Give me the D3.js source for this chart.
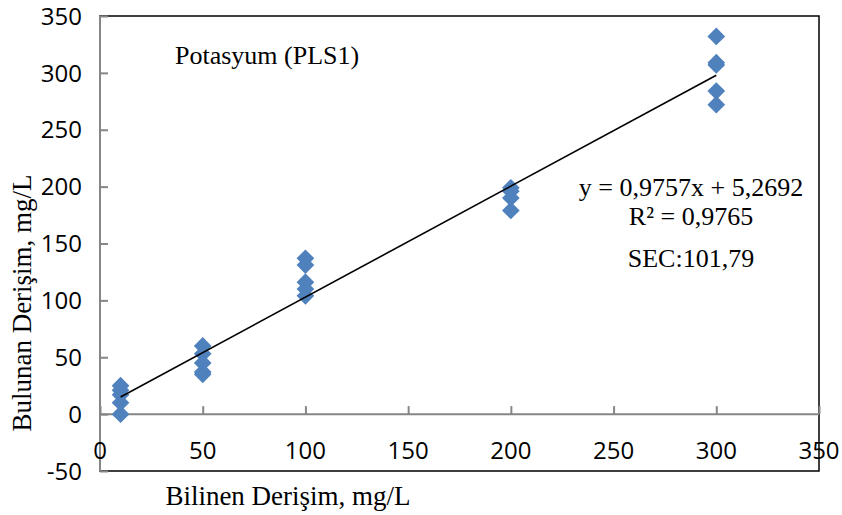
<!DOCTYPE html>
<html><head><meta charset="utf-8">
<script src="https://cdn.jsdelivr.net/npm/d3@7"></script>
<style>body{margin:0;background:#fff}svg{display:block}</style>
</head><body>
<svg id="c" width="842" height="515"></svg>
<script>
const knownX   = [10,10,10,10,10, 50,50,50,50,50, 100,100,100,100,100, 200,200,200,200, 300,300,300,300,300];
const foundY   = [25,21,17,10,0, 60,53,45,37,35, 137,131,116,110,104, 199,196,190,179, 332,309,307,284,272];
const xTicks   = [0,50,100,150,200,250,300,350];
const yTicks   = [-50,0,50,100,150,200,250,300,350];
const slope = 0.9757, intercept = 5.2692;
const trendX = [10, 300];
const chartTitle = "Potasyum (PLS1)";
const eqLines = ["y = 0,9757x + 5,2692", "R² = 0,9765"];
const secText = "SEC:101,79";
const xTitle = "Bilinen Derişim, mg/L";
const yTitle = "Bulunan Derişim, mg/L";

const svg = d3.select("#c");
const L = 100, R = 819, T = 16, B = 471;
const x = d3.scaleLinear().domain([0,350]).range([L,R]);
const y = d3.scaleLinear().domain([-50,350]).range([B,T]);
const axisColor = "#868686";
const tickFont = "'Open Sans', sans-serif";
const serif = "'Liberation Serif', 'Times New Roman', serif";

// plot border
svg.append("rect").attr("x",L).attr("y",T).attr("width",R-L).attr("height",B-T)
  .attr("fill","none").attr("stroke","#000").attr("stroke-width",1.5);

// y axis (ticks inside)
const yAxis = d3.axisRight(y).tickValues(yTicks).tickSize(8).tickFormat("");
const gy = svg.append("g").attr("transform",`translate(${L},0)`).call(yAxis);
gy.selectAll("path,line").attr("stroke",axisColor).attr("stroke-width",2);
gy.select(".domain").attr("d",`M0,${T}V${B}`);
svg.append("g").selectAll("text").data(yTicks).join("text")
  .attr("x",82).attr("y",d=>y(d)).attr("dy","0.36em").attr("text-anchor","end")
  .attr("font-family",tickFont).attr("font-size",24).attr("fill","#000").text(d=>d);

// x axis at y=0 (ticks upward)
const xAxis = d3.axisTop(x).tickValues(xTicks).tickSize(8).tickFormat("");
const gx = svg.append("g").attr("transform",`translate(0,${y(0)})`).call(xAxis);
gx.selectAll("path,line").attr("stroke",axisColor).attr("stroke-width",2);
gx.select(".domain").attr("d",`M${L},0H${R}`);
svg.append("g").selectAll("text").data(xTicks).join("text")
  .attr("x",d=>x(d)).attr("y",y(0)+36).attr("dy","0.36em").attr("text-anchor","middle")
  .attr("font-family",tickFont).attr("font-size",24).attr("fill","#000").text(d=>d);

// points
const diamond = d3.symbol().type(d3.symbolDiamond2).size(200);
svg.append("g").selectAll("path").data(knownX.map((k,i)=>[k,foundY[i]])).join("path")
  .attr("transform",d=>`translate(${x(d[0])},${y(d[1])})`)
  .attr("d",diamond).attr("fill","#4F81BD");

// trend line
svg.append("line")
  .attr("x1",x(trendX[0])).attr("y1",y(slope*trendX[0]+intercept))
  .attr("x2",x(trendX[1])).attr("y2",y(slope*trendX[1]+intercept))
  .attr("stroke","#000").attr("stroke-width",1.6);

// texts
svg.append("text").attr("x",175).attr("y",64).attr("font-family",serif).attr("font-size",26).text(chartTitle);
svg.append("g").selectAll("text").data(eqLines).join("text")
  .attr("x",691).attr("y",(d,i)=>196+i*29).attr("text-anchor","middle")
  .attr("font-family",serif).attr("font-size",26).text(d=>d);
svg.append("text").attr("x",691).attr("y",267).attr("text-anchor","middle")
  .attr("font-family",serif).attr("font-size",26).text(secText);
svg.append("text").attr("x",288).attr("y",505).attr("text-anchor","middle")
  .attr("font-family",serif).attr("font-size",27).text(xTitle);
svg.append("text").attr("transform","translate(31,303) rotate(-90)").attr("text-anchor","middle")
  .attr("font-family",serif).attr("font-size",27).text(yTitle);
</script>
</body></html>
